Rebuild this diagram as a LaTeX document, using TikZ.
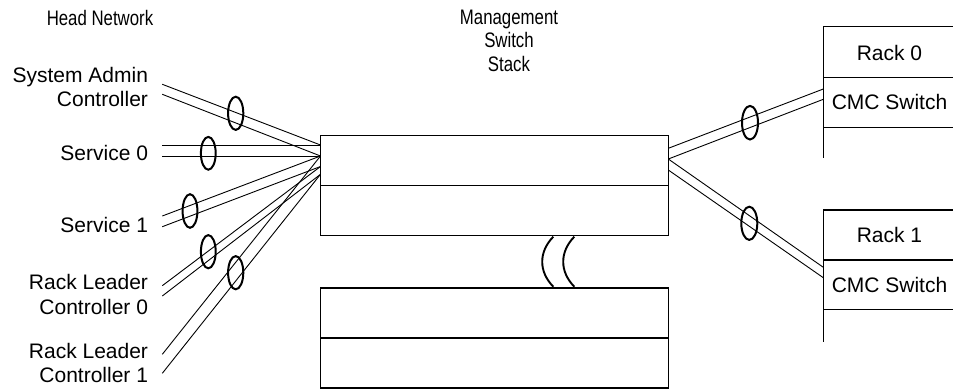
\documentclass[tikz,border=0pt]{standalone}
\usepackage{fontspec}
\setmainfont{Liberation Sans}
\newfontfamily\narrowsans[FakeStretch=0.8]{Liberation Sans}
\begin{document}
\begin{tikzpicture}[x=1pt,y=-1pt,
  txt/.style={font=\fontsize{21}{24.7}\selectfont, inner sep=0pt, outer sep=0pt},
  lbl/.style={txt, align=right, anchor=east},
  ttl/.style={font=\narrowsans\fontsize{21}{23.5}\selectfont, inner sep=0pt, outer sep=0pt, align=center},
  swbox/.style={draw, line width=1.2pt, minimum width=347.8pt, minimum height=100pt, anchor=north west, inner sep=0pt, outer sep=0pt},
  frame/.style={line width=1.2pt},
  cable/.style={line width=0.9pt},
  tie/.style={line width=2pt},
  brk/.style={line width=1.9pt},
]
\useasboundingbox (0,0) rectangle (953,389);

% titles
\node[ttl] (head) at (100,17.5) {Head Network};
\node[ttl] (mgmt) at (509,40.5) {Management\\Switch\\Stack};

% left labels
\node[lbl] (sa)  at (148,86.9)  {System Admin\\Controller};
\node[lbl] (s0)  at (148,153)   {Service 0};
\node[lbl] (s1)  at (148,225.3) {Service 1};
\node[lbl] (rl0) at (148,294.5) {Rack Leader\\Controller 0};
\node[lbl] (rl1) at (148,363)   {Rack Leader\\Controller 1};

% switch stack
\node[swbox] (sw1) at (320.5,135.7) {};
\node[swbox] (sw2) at (320.5,288) {};
\draw[frame] (sw1.west) -- (sw1.east);
\draw[frame] (sw2.west) -- (sw2.east);

% break marks
\draw[brk] (553.3,236.7) .. controls (538.5,252) and (538.5,271.5) .. (553.3,286.7);
\draw[brk] (574.3,236.7) .. controls (559.5,252) and (559.5,271.5) .. (574.3,286.7);

% racks
\draw[frame] (953,26.7) -- (823.3,26.7) -- (823.3,158.3);
\draw[frame] (823.3,77.3) -- (953,77.3);
\draw[frame] (823.3,127.3) -- (953,127.3);
\node[txt] (r0) at (889.5,52.5) {Rack 0};
\node[txt] (cmc0) at (889.5,102.2) {CMC Switch};

\draw[frame] (953,210) -- (823.3,210) -- (823.3,341.7);
\draw[frame] (823.3,260) -- (953,260);
\draw[frame] (823.3,309.3) -- (953,309.3);
\node[txt] (r1) at (889.5,234.8) {Rack 1};
\node[txt] (cmc1) at (889.5,284.5) {CMC Switch};

% connection points on the switch
\coordinate (L1) at (320.5,145);
\coordinate (L2) at (320.5,156);
\coordinate (L3) at (320.5,166.5);
\coordinate (L4) at (320.5,174.3);
\coordinate (R1) at (668.3,148.3);
\coordinate (R2) at (668.3,159);
\coordinate (R3) at (668.3,170);
\coordinate (K0a) at (823.3,89);
\coordinate (K0b) at (823.3,99.3);
\coordinate (K1a) at (823.3,267.3);
\coordinate (K1b) at (823.3,277.7);

% free ends near labels
\coordinate (sa1) at (162.3,84.3);
\coordinate (sa2) at (162.3,94.3);
\coordinate (s01) at (162.3,145);
\coordinate (s02) at (162.3,156);
\coordinate (s11) at (162.3,216);
\coordinate (s12) at (162.3,226.7);
\coordinate (rl01) at (162.3,285.7);
\coordinate (rl02) at (162.3,296);
\coordinate (rl11) at (162.3,354.3);
\coordinate (rl12) at (162.3,373.3);

% cables
\draw[cable] (sa1) -- (L1);
\draw[cable] (sa2) -- (L2);
\draw[cable] (s01) -- (L1);
\draw[cable] (s02) -- (L2);
\draw[cable] (s11) -- (L2);
\draw[cable] (s12) -- (L3);
\draw[cable] (rl01) -- (L3);
\draw[cable] (rl02) -- (L4);
\draw[cable] (rl11) -- (L2);
\draw[cable] (rl12) -- (L4);
\draw[cable] (R1) -- (K0a);
\draw[cable] (R2) -- (K0b);
\draw[cable] (R2) -- (K1a);
\draw[cable] (R3) -- (K1b);

% cable ties
\draw[tie] (235.7,113.3) ellipse [x radius=7.6, y radius=16.6];
\draw[tie] (208.3,153.3) ellipse [x radius=7.4, y radius=16.4];
\draw[tie] (190,211) ellipse [x radius=7.4, y radius=16.8];
\draw[tie] (208.3,251.7) ellipse [x radius=7.4, y radius=16.6];
\draw[tie] (235.7,272.7) ellipse [x radius=7.6, y radius=16.6];
\draw[tie] (750,122.7) ellipse [x radius=8, y radius=16.8];
\draw[tie] (749.3,223.3) ellipse [x radius=8, y radius=16.6];
\end{tikzpicture}
\end{document}
